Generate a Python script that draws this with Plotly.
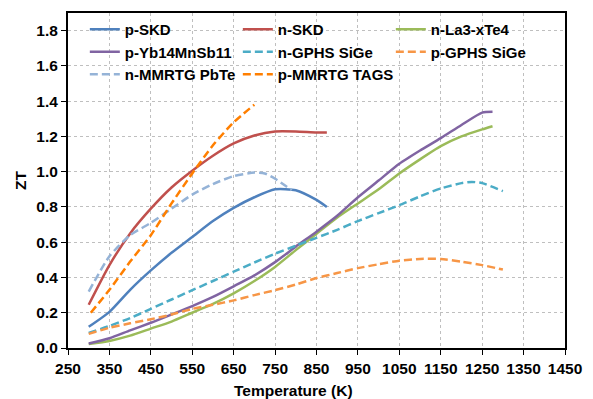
import plotly.graph_objects as go

# ---- data ----
p_skd_T  = [300, 350, 400, 450, 500, 550, 600, 650, 700, 750, 800, 850, 875]
p_skd_ZT = [0.12, 0.205, 0.33, 0.44, 0.54, 0.63, 0.72, 0.795, 0.855, 0.9, 0.895, 0.84, 0.80]

n_skd_T  = [300, 350, 400, 450, 500, 550, 600, 650, 700, 750, 800, 850, 875]
n_skd_ZT = [0.245, 0.47, 0.65, 0.79, 0.91, 1.005, 1.09, 1.16, 1.205, 1.228, 1.228, 1.222, 1.222]

n_la_T  = [300, 350, 400, 450, 500, 550, 600, 650, 700, 750, 800, 850, 900, 950, 1000, 1050, 1100, 1150, 1200, 1250, 1275]
n_la_ZT = [0.022, 0.04, 0.07, 0.11, 0.15, 0.2, 0.25, 0.31, 0.38, 0.46, 0.555, 0.648, 0.74, 0.82, 0.9, 0.99, 1.07, 1.145, 1.2, 1.24, 1.258]

p_yb_T  = [300, 350, 400, 450, 500, 550, 600, 650, 700, 750, 800, 850, 900, 950, 1000, 1050, 1100, 1150, 1200, 1250, 1275]
p_yb_ZT = [0.025, 0.055, 0.1, 0.143, 0.19, 0.238, 0.29, 0.35, 0.412, 0.487, 0.575, 0.66, 0.75, 0.855, 0.95, 1.045, 1.12, 1.19, 1.265, 1.335, 1.34]

n_gphs_T  = [300, 350, 400, 450, 500, 550, 600, 650, 700, 750, 800, 850, 900, 950, 1000, 1050, 1100, 1150, 1200, 1225, 1250, 1300]
n_gphs_ZT = [0.085, 0.125, 0.17, 0.222, 0.275, 0.328, 0.38, 0.433, 0.485, 0.535, 0.58, 0.625, 0.67, 0.72, 0.765, 0.81, 0.86, 0.905, 0.935, 0.942, 0.935, 0.89]

p_gphs_T  = [300, 350, 400, 450, 500, 550, 600, 650, 700, 750, 800, 850, 900, 950, 1000, 1050, 1100, 1150, 1200, 1250, 1300]
p_gphs_ZT = [0.08, 0.115, 0.14, 0.163, 0.19, 0.222, 0.245, 0.27, 0.3, 0.328, 0.36, 0.397, 0.425, 0.453, 0.475, 0.495, 0.505, 0.505, 0.49, 0.47, 0.445]

n_pbte_T  = [300, 350, 400, 450, 500, 550, 600, 650, 700, 725, 750, 775, 790]
n_pbte_ZT = [0.32, 0.52, 0.64, 0.71, 0.79, 0.87, 0.93, 0.975, 0.995, 0.99, 0.96, 0.92, 0.895]

p_tags_T  = [305, 350, 400, 450, 500, 550, 600, 650, 700]
p_tags_ZT = [0.2, 0.33, 0.49, 0.64, 0.82, 0.99, 1.15, 1.28, 1.38]

x_ticks = list(range(250, 1451, 100))
y_ticks = [0.0, 0.2, 0.4, 0.6, 0.8, 1.0, 1.2, 1.4, 1.6, 1.8]

FONT = "Liberation Sans, Arial, sans-serif"
DASH = "8px,4px"

series = [
    ("p-SKD", p_skd_T, p_skd_ZT, "#4F81BD", "solid"),
    ("n-SKD", n_skd_T, n_skd_ZT, "#C0504D", "solid"),
    ("n-La3-xTe4", n_la_T, n_la_ZT, "#9BBB59", "solid"),
    ("p-Yb14MnSb11", p_yb_T, p_yb_ZT, "#8064A2", "solid"),
    ("n-GPHS SiGe", n_gphs_T, n_gphs_ZT, "#4BACC6", DASH),
    ("p-GPHS SiGe", p_gphs_T, p_gphs_ZT, "#F79646", DASH),
    ("n-MMRTG PbTe", n_pbte_T, n_pbte_ZT, "#95B3D7", DASH),
    ("p-MMRTG TAGS", p_tags_T, p_tags_ZT, "#FF7F00", DASH),
]

fig = go.Figure()
for name, xs, ys, col, dash in series:
    fig.add_trace(go.Scatter(x=xs, y=ys, mode="lines", name=name,
                             line=dict(color=col, width=2.5, dash=dash, shape="spline", smoothing=0.6)))

fig.update_layout(
    width=593, height=399,
    margin=dict(l=68, r=23, t=11, b=51),
    paper_bgcolor="white", plot_bgcolor="white",
    font=dict(family=FONT, size=15, color="black"),
    showlegend=True,
    legend=dict(orientation="h", x=(85 - 68) / 502, y=1.0,
                xanchor="left", yanchor="top",
                entrywidth=108, entrywidthmode="pixels",
                bgcolor="rgba(0,0,0,0)",
                font=dict(family=FONT, size=15, color="black", weight="bold"),
                tracegroupgap=0),
    annotations=[
        dict(text="<b>Temperature (K)</b>", x=(296 - 68) / 502, y=-(391 - 348) / 337,
             xref="paper", yref="paper", showarrow=False, xanchor="center", yanchor="middle",
             font=dict(family=FONT, size=15.5, color="black")),
        dict(text="<b>ZT</b>", x=(20 - 68) / 502, y=0.5, textangle=-90,
             xref="paper", yref="paper", showarrow=False, xanchor="center", yanchor="middle",
             font=dict(family=FONT, size=15.5, color="black")),
    ],
)

fig.update_xaxes(range=[250, 1450], tickvals=x_ticks, ticktext=[str(v) for v in x_ticks],
                 showline=True, linecolor="black", linewidth=2, mirror=True,
                 ticks="outside", ticklen=5, tickcolor="black", tickwidth=1,
                 showgrid=True, gridcolor="#BFBFBF", griddash="dot", gridwidth=1,
                 zeroline=False,
                 tickfont=dict(family=FONT, size=15.5, color="black", weight="bold"))
fig.update_yaxes(range=[0, 1.9], tickvals=y_ticks, ticktext=[f"{v:.1f}" for v in y_ticks],
                 showline=True, linecolor="black", linewidth=2, mirror=True,
                 ticks="outside", ticklen=5, tickcolor="black", tickwidth=1,
                 showgrid=True, gridcolor="#BFBFBF", griddash="dot", gridwidth=1,
                 zeroline=False,
                 tickfont=dict(family=FONT, size=15.5, color="black", weight="bold"))

fig.write_html("out.html")
